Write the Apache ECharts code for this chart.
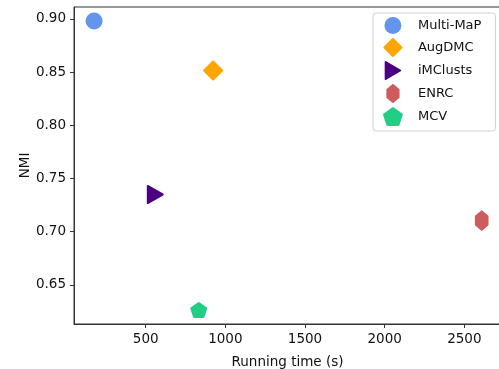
<!DOCTYPE html>
<html>
<head>
<meta charset="utf-8">
<script src="https://cdn.jsdelivr.net/npm/echarts@6/dist/echarts.min.js"></script>
<style>
  html, body { margin: 0; padding: 0; background: #fff; }
  #chart { width: 499px; height: 369px; }
</style>
</head>
<body>
<div id="chart"></div>
<script>
var methods = ['Multi-MaP', 'AugDMC', 'iMClusts', 'ENRC', 'MCV'];
var runTimes = [176, 923, 560, 2609, 833];
var nmiValues = [0.898, 0.8515, 0.735, 0.7105, 0.6265];
var colors = ['#6495ED', '#FFA500', '#4B0082', '#CD5C5C', '#20CE85'];
var xTicks = [500, 1000, 1500, 2000, 2500];
var yTicks = [0.65, 0.70, 0.75, 0.80, 0.85, 0.90];

// marker shapes, rounded by a same-colour border
var shapes = [
    'circle',
    'path://M50,0 L100,50 L50,100 L0,50 Z',
    'path://M0,0 L94,55 L0,110 Z',
    'path://M33,0 L66,28 L66,72 L33,100 L0,72 L0,28 Z',
    'path://M0,-100 L95.1,-30.9 L58.8,80.9 L-58.8,80.9 L-95.1,-30.9 Z'
];
var sizes = [17, [18, 18], [15, 17], [12, 18], [15, 14]];

var font = 'DejaVu Sans';

var series = methods.map(function (name, i) {
    return {
        name: name,
        type: 'scatter',
        symbol: shapes[i],
        symbolSize: sizes[i],
        itemStyle: {
            color: colors[i],
            opacity: 1,
            borderColor: colors[i],
            borderWidth: i === 0 ? 0 : 2,
            borderJoin: 'round'
        },
        data: [[runTimes[i], nmiValues[i]]]
    };
});

var myChart = echarts.init(document.getElementById('chart'));
myChart.setOption({
    animation: false,
    textStyle: { fontFamily: font },
    grid: {
        left: 74, top: 7, right: -2, bottom: 45,
        outerBoundsMode: 'none',
        show: true, borderColor: '#333', borderWidth: 1
    },
    legend: {
        orient: 'vertical',
        left: 373, top: 13,
        padding: [4, 14, 5, 10],
        itemWidth: 20, itemHeight: 17, itemGap: 4,
        symbolKeepAspect: true,
        borderColor: '#d0d0d0', borderWidth: 1, borderRadius: 3,
        textStyle: { fontFamily: font, fontSize: 13, color: '#111', padding: [0, 0, 0, 10] },
        data: methods
    },
    xAxis: {
        type: 'value',
        min: 50, max: 2730,
        name: 'Running time (s)',
        nameLocation: 'middle', nameGap: 31,
        nameMoveOverlap: false,
        nameTextStyle: { fontFamily: font, fontSize: 13.5, color: '#111' },
        splitLine: { show: false },
        axisLine: { show: true, lineStyle: { color: '#333' } },
        axisTick: { show: true, length: 4, lineStyle: { color: '#333' }, customValues: xTicks },
        axisLabel: {
            fontFamily: font, fontSize: 13.5, color: '#111', margin: 8,
            customValues: xTicks,
            formatter: function (v) { return String(v); }
        }
    },
    yAxis: {
        type: 'value',
        min: 0.6133, max: 0.9112,
        name: 'NMI',
        nameLocation: 'middle', nameGap: 42,
        nameMoveOverlap: false,
        nameTextStyle: { fontFamily: font, fontSize: 13.5, color: '#111' },
        splitLine: { show: false },
        axisLine: { show: true, lineStyle: { color: '#333' } },
        axisTick: { show: true, length: 4, lineStyle: { color: '#333' }, customValues: yTicks },
        axisLabel: {
            fontFamily: font, fontSize: 13.5, color: '#111', margin: 8,
            customValues: yTicks,
            formatter: function (v) { return v.toFixed(2); }
        }
    },
    series: series
});
</script>
</body>
</html>
